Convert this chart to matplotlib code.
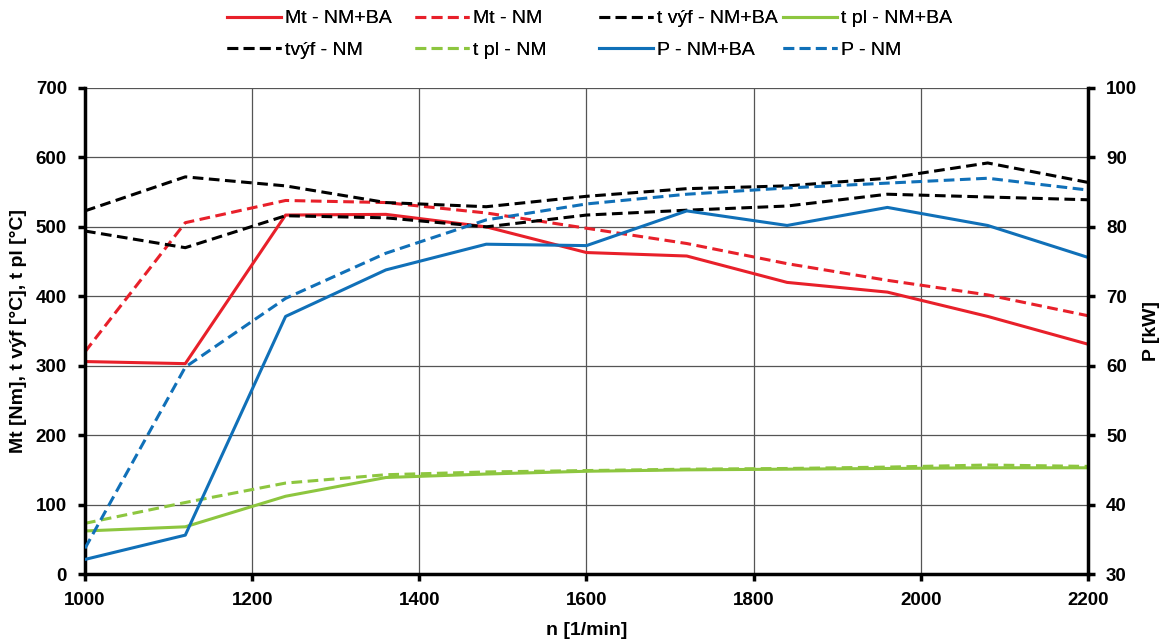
import matplotlib.pyplot as plt

plt.rcParams['font.family'] = ['Liberation Sans', 'DejaVu Sans']

n = [1000, 1120, 1240, 1360, 1480, 1600, 1720, 1840, 1960, 2080, 2200]

mt_nmba = [306, 303, 517, 518, 500, 463, 458, 420, 406, 371, 331]
mt_nm = [320, 506, 538, 535, 520, 498, 476, 447, 423, 402, 372]
tvyf_nmba = [494, 470, 516, 513, 500, 517, 524, 530, 547, 543, 539]
tvyf_nm = [523, 572, 559, 535, 529, 544, 555, 559, 570, 592, 564]
tpl_nmba = [62, 68, 112, 139, 144, 148, 150, 151, 152, 153, 153]
tpl_nm = [73, 103, 131, 143, 147, 149, 151, 152, 154, 157, 155]
p_nmba = [32.1, 35.6, 67.1, 73.8, 77.5, 77.3, 82.3, 80.2, 82.8, 80.2, 75.6]
p_nm = [33.7, 59.8, 69.7, 76.2, 81.0, 83.3, 84.7, 85.6, 86.3, 87.0, 85.3]

RED = '#E8202A'
GREEN = '#8DC63F'
BLUE = '#1070B8'
lw = 2.2
dash = (0, (3.5, 1.8))

fig = plt.figure(figsize=(11.69, 6.39), dpi=100)
ax = fig.add_axes([0.0727, 0.1017, 0.858, 0.7606])
ax2 = ax.twinx()

l1, = ax.plot(n, mt_nmba, color=RED, lw=lw, label='Mt - NM+BA')
l2, = ax.plot(n, mt_nm, color=RED, lw=lw, ls=dash, label='Mt - NM')
l3, = ax.plot(n, tvyf_nmba, color='black', lw=lw, ls=dash, label='t výf - NM+BA')
l4, = ax.plot(n, tpl_nmba, color=GREEN, lw=lw, label='t pl - NM+BA')
l5, = ax.plot(n, tvyf_nm, color='black', lw=lw, ls=dash, label='tvýf - NM')
l6, = ax.plot(n, tpl_nm, color=GREEN, lw=lw, ls=dash, label='t pl - NM')
l7, = ax2.plot(n, p_nmba, color=BLUE, lw=lw, label='P - NM+BA')
l8, = ax2.plot(n, p_nm, color=BLUE, lw=lw, ls=dash, label='P - NM')

ax.set_xlim(1000, 2200)
ax.set_ylim(0, 700)
ax2.set_ylim(30, 100)
ax.set_xticks(range(1000, 2201, 200))
ax.set_yticks(range(0, 701, 100))
ax2.set_yticks(range(30, 101, 10))
ax.grid(True, color='#555555', lw=0.9)

for a in (ax, ax2):
    a.spines['top'].set_visible(False)
    for s in ('left', 'right', 'bottom'):
        a.spines[s].set_linewidth(2.5)
    a.tick_params(width=2.5, length=5, labelsize=13.5, pad=8)
    for t in a.get_xticklabels() + a.get_yticklabels():
        t.set_fontweight('bold')
ax.spines['right'].set_visible(False)
ax2.spines['left'].set_visible(False)
ax2.spines['bottom'].set_visible(False)

ax.set_xlabel('n [1/min]', fontsize=14, fontweight='bold', labelpad=9)
ax.set_ylabel('Mt [Nm], t výf [°C], t pl [°C]', fontsize=14, fontweight='bold', labelpad=6)
ax2.set_ylabel('P [kW]', fontsize=14, fontweight='bold', labelpad=4)

# Excel-style legend: equal column widths, so one legend per column
columns = [(l1, l5), (l2, l6), (l3, l7), (l4, l8)]
col_x = [217, 405, 589, 773]
for x, hs in zip(col_x, columns):
    leg = fig.legend(handles=list(hs), labels=[h.get_label() for h in hs],
                     loc='upper left', bbox_to_anchor=(x / 1169, 1.0),
                     frameon=False, fontsize=14, handlelength=2.8,
                     handletextpad=0.2, labelspacing=0.7, borderpad=0)
    fig.add_artist(leg)

fig.savefig('out.png', dpi=100)
